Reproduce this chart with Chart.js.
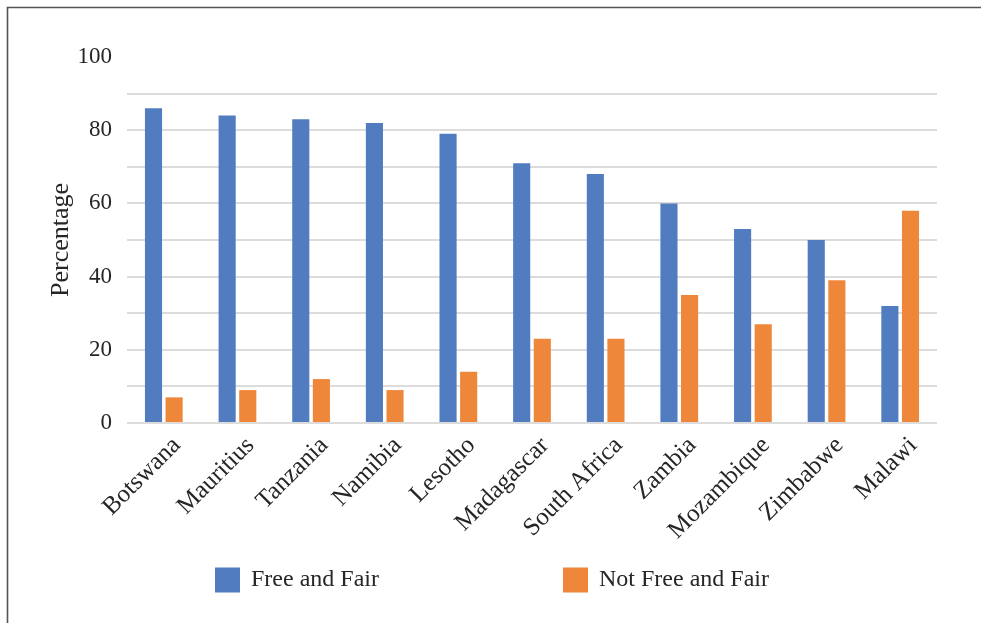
<!DOCTYPE html>
<html>
<head>
<meta charset="utf-8">
<script src="https://cdn.jsdelivr.net/npm/chart.js@4/dist/chart.umd.min.js"></script>
<style>
  html, body { margin: 0; padding: 0; background: #fff; }
  #wrap { width: 981px; height: 623px; position: relative; }
</style>
</head>
<body>
<div id="wrap"><canvas id="electionChart"></canvas></div>
<script>
/*====================================
        Election Perception Chart
====================================*/

const countries = ["Botswana", "Mauritius", "Tanzania", "Namibia", "Lesotho", "Madagascar",
    "South Africa", "Zambia", "Mozambique", "Zimbabwe", "Malawi"];

const freeAndFair = [86, 84, 83, 82, 79, 71, 68, 60, 53, 50, 32];

const notFreeAndFair = [7, 9, 12, 9, 14, 23, 23, 35, 27, 39, 58];

const yTicks = [0, 20, 40, 60, 80, 100];

const FONT = "'Liberation Serif', 'Times New Roman', serif";
const TEXT = "#262626";

// frame on the top and left edge, like the cropped figure
const framePlugin = {
    id: "frame",
    beforeDraw(chart) {
        const ctx = chart.ctx;
        ctx.save();
        ctx.strokeStyle = "#555";
        ctx.lineWidth = 1.6;
        ctx.beginPath();
        ctx.moveTo(7.5, chart.height);
        ctx.lineTo(7.5, 7.5);
        ctx.lineTo(chart.width, 7.5);
        ctx.stroke();
        ctx.restore();
    }
};

// legend with wide spacing between the two entries
const spacedLegend = {
    id: "spacedLegend",
    afterDraw(chart) {
        const ctx = chart.ctx;
        const starts = [215, 563];
        const y = 580;
        ctx.save();
        ctx.font = "24px " + FONT;
        ctx.textBaseline = "middle";
        ctx.textAlign = "left";
        chart.data.datasets.forEach((ds, i) => {
            ctx.fillStyle = ds.backgroundColor;
            ctx.fillRect(starts[i], y - 12.5, 25, 25);
            ctx.fillStyle = TEXT;
            ctx.fillText(ds.label, starts[i] + 36, y);
        });
        ctx.restore();
    }
};

new Chart(document.getElementById("electionChart"), {

    type: "bar",

    data: {
        labels: countries,
        datasets: [{
            label: "Free and Fair",
            data: freeAndFair,
            backgroundColor: "#517CC0"
        }, {
            label: "Not Free and Fair",
            data: notFreeAndFair,
            backgroundColor: "#EF873A"
        }]
    },

    options: {
        responsive: true,
        maintainAspectRatio: false,
        animation: false,
        layout: { padding: { left: 37, right: 44, top: 57, bottom: 80 } },
        datasets: {
            bar: { categoryPercentage: 0.56, barPercentage: 0.83 }
        },
        plugins: {
            legend: { display: false },
            tooltip: { enabled: false }
        },
        scales: {
            x: {
                grid: { display: false },
                border: { display: false },
                ticks: {
                    autoSkip: false,
                    maxRotation: 45,
                    minRotation: 45,
                    padding: 0,
                    labelOffset: 13,
                    color: TEXT,
                    font: { family: FONT, size: 25 }
                },
                afterFit(scale) { scale.height = 120; }
            },
            y: {
                min: 0,
                max: 100,
                border: { display: false },
                grid: {
                    drawTicks: false,
                    lineWidth: 2,
                    color: c => c.tick && c.tick.value === 100 ? "rgba(0,0,0,0)" : "#DCDCDC"
                },
                ticks: {
                    stepSize: 10,
                    padding: 15,
                    color: TEXT,
                    font: { family: FONT, size: 23 },
                    callback: v => yTicks.includes(v) ? String(v) : ""
                },
                title: {
                    display: true,
                    text: "Percentage",
                    color: TEXT,
                    padding: { top: 9, bottom: 0 },
                    font: { family: FONT, size: 26 }
                },
                afterFit(scale) { scale.width = 90; }
            }
        }
    },

    plugins: [framePlugin, spacedLegend]

});
</script>
</body>
</html>
